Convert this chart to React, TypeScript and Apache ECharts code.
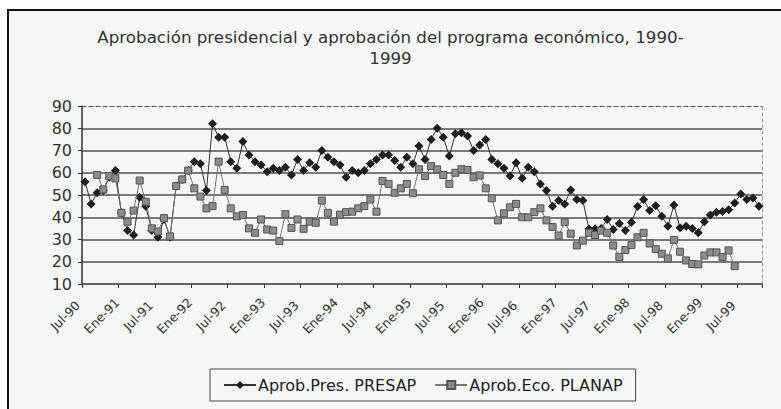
import React, { useEffect, useRef } from "react";
import * as echarts from "echarts";

// Month names (Spanish) used to build the monthly categories Jul-90 .. Oct-99
const MESES = ["Ene", "Feb", "Mar", "Abr", "May", "Jun", "Jul", "Ago", "Sep", "Oct", "Nov", "Dic"];
const START_YEAR = 1990;
const START_MONTH = 6; // July
const N_MONTHS = 112;
const months: string[] = Array.from({ length: N_MONTHS }, (_, i) => {
  const t = START_MONTH + i;
  return MESES[t % 12] + "-" + String((START_YEAR + Math.floor(t / 12)) % 100).padStart(2, "0");
});

const tickLabels = [
  "Jul-90", "Ene-91", "Jul-91", "Ene-92", "Jul-92", "Ene-93", "Jul-93", "Ene-94", "Jul-94",
  "Ene-95", "Jul-95", "Ene-96", "Jul-96", "Ene-97", "Jul-97", "Ene-98", "Jul-98", "Ene-99", "Jul-99",
];

const TITLE = "Aprobación presidencial y aprobación del programa económico, 1990-\n1999";
const SERIES_NAMES = ["Aprob.Pres. PRESAP", "Aprob.Eco. PLANAP"];

const presap: (number | null)[] = [
  56, 46, 51, 52, 58, 61, 42, 34, 32, 49,
  45, 34, 31, 39, 31, 54, 57, 61, 65, 64,
  52, 82, 76, 76, 65, 62, 74, 68, 65, 63.5,
  60.5, 62, 61, 62.5, 59, 66, 61, 64.5, 62.5, 70,
  67, 65, 63.5, 58, 61, 60, 61, 64, 66, 68,
  68, 65.5, 62.5, 67, 64, 72, 66, 75, 80, 76,
  67.5, 77.5, 78, 76.5, 70, 72.5, 75, 66, 64, 62,
  58.5, 64.5, 57.5, 62.5, 60.5, 55, 52, 45, 47.5, 46,
  52.3, 48, 47.5, 34.7, 34.8, 35, 39, 34.5, 37.2, 34,
  37.7, 44.8, 48, 43, 45.2, 40.4, 36, 45.5, 35.3, 36,
  35, 33, 38, 41, 42.2, 42.6, 43.4, 46.4, 50.5, 48,
  48.7, 45,
];

const planap: (number | null)[] = [
  null, null, 59, 52.5, 58.5, 57.5, 42, 38, 43, 56.5,
  47, 35, 33.6, 39.6, 31.4, 54, 57, 61, 53, 49.3,
  44, 45, 65, 52.3, 44, 40.4, 41, 35, 33, 39,
  34.5, 34, 29.3, 41.4, 35.2, 39, 34.8, 38, 37.5, 47.5,
  42, 38, 41.2, 42.3, 42.5, 44, 45, 48, 42.5, 56.3,
  55, 51, 53, 55, 50.8, 61.6, 58.5, 63, 61.5, 59,
  55, 60, 61.6, 61.3, 58, 58.8, 53, 48.5, 38.6, 41.8,
  44.5, 46, 40, 40, 42.3, 44, 38.6, 35.6, 31.8, 37.8,
  32.6, 27.3, 29.5, 33, 32, 34, 33, 27.3, 22.2, 25.3,
  27.5, 31, 33, 28.2, 25.7, 23.6, 21.5, 29.8, 24.5, 20.6,
  19, 18.8, 22.8, 24.2, 24.2, 22.1, 25.1, 18, null, null,
  null, null,
];

const FONT = "DejaVu Sans";

export default function App() {
  const ref = useRef<HTMLDivElement>(null);

  useEffect(() => {
    if (!ref.current) return;
    const chart = echarts.init(ref.current, undefined, { renderer: "svg" });
    const isTick = (i: number) => tickLabels.includes(months[i]);

    chart.setOption({
      animation: false,
      backgroundColor: "#f5f6f6",
      title: {
        text: TITLE,
        left: "center",
        top: 26,
        padding: 0,
        textStyle: {
          fontFamily: FONT,
          fontSize: 16.7,
          fontWeight: "normal",
          color: "#333",
          lineHeight: 21,
        },
      },
      legend: {
        data: SERIES_NAMES,
        left: 210,
        top: 369,
        orient: "horizontal",
        borderColor: "#444",
        borderWidth: 1,
        padding: [8, 13, 8, 13],
        itemWidth: 32,
        itemHeight: 10,
        itemGap: 18,
        textStyle: { fontFamily: FONT, fontSize: 16, color: "#222", padding: [0, 0, 0, -3] },
      },
      grid: { left: 82, right: 19, top: 106, bottom: 125, containLabel: false },
      xAxis: [
        {
          type: "category",
          data: months,
          boundaryGap: true,
          axisLine: { lineStyle: { color: "#333", width: 1.5 } },
          axisTick: { show: true, interval: (i: number) => isTick(i), length: 4, lineStyle: { color: "#333" } },
          axisLabel: {
            interval: (i: number) => isTick(i),
            rotate: 45,
            align: "center",
            verticalAlign: "middle",
            margin: 12,
            padding: [0, 56, 0, 0],
            fontFamily: FONT,
            fontSize: 12.5,
            color: "#333",
          },
          splitLine: { show: false },
        },
        {
          type: "category",
          data: months,
          position: "top",
          boundaryGap: true,
          axisLine: { show: true, lineStyle: { color: "#555", width: 1.2, type: [4, 3] } },
          axisTick: { show: false },
          axisLabel: { show: false },
        },
      ],
      yAxis: [
        {
          type: "value",
          min: 10,
          max: 90,
          interval: 10,
          axisLine: { show: true, lineStyle: { color: "#333", width: 1.5 } },
          axisTick: { show: true, length: 4, lineStyle: { color: "#333" } },
          axisLabel: { fontFamily: FONT, fontSize: 16, color: "#333", margin: 10 },
          splitLine: {
            show: true,
            showMinLine: false,
            showMaxLine: false,
            lineStyle: { color: "#505050", width: 1.5 },
          },
        },
        {
          type: "value",
          min: 10,
          max: 90,
          interval: 10,
          position: "right",
          axisLine: { show: true, lineStyle: { color: "#999", width: 1, type: [3, 3] } },
          axisTick: { show: false },
          axisLabel: { show: false },
          splitLine: { show: false },
        },
      ],
      series: [
        {
          name: SERIES_NAMES[0],
          type: "line",
          data: presap,
          connectNulls: true,
          showSymbol: true,
          showAllSymbol: true,
          symbol: "diamond",
          symbolSize: 9,
          lineStyle: { color: "#333", width: 1 },
          itemStyle: { color: "#1e1e1e" },
          z: 3,
        },
        {
          name: SERIES_NAMES[1],
          type: "line",
          data: planap,
          connectNulls: true,
          showSymbol: true,
          showAllSymbol: true,
          symbol: "rect",
          symbolSize: 7,
          lineStyle: { color: "#777", width: 1 },
          itemStyle: { color: "#8c8c8c", borderColor: "#555", borderWidth: 1 },
          z: 4,
        },
      ],
      graphic: [
        { type: "rect", silent: true, shape: { x: 0, y: 0, width: 781, height: 9 }, style: { fill: "#ffffff" } },
        { type: "rect", silent: true, shape: { x: 0, y: 0, width: 7, height: 409 }, style: { fill: "#ffffff" } },
        { type: "line", silent: true, shape: { x1: 8, y1: 9, x2: 8, y2: 409 }, style: { stroke: "#111", lineWidth: 2 } },
        { type: "line", silent: true, shape: { x1: 7, y1: 10, x2: 781, y2: 10 }, style: { stroke: "#111", lineWidth: 2 } },
      ],
    });

    return () => chart.dispose();
  }, []);

  return <div ref={ref} style={{ position: "fixed", left: 0, top: 0, width: 781, height: 409 }} />;
}
